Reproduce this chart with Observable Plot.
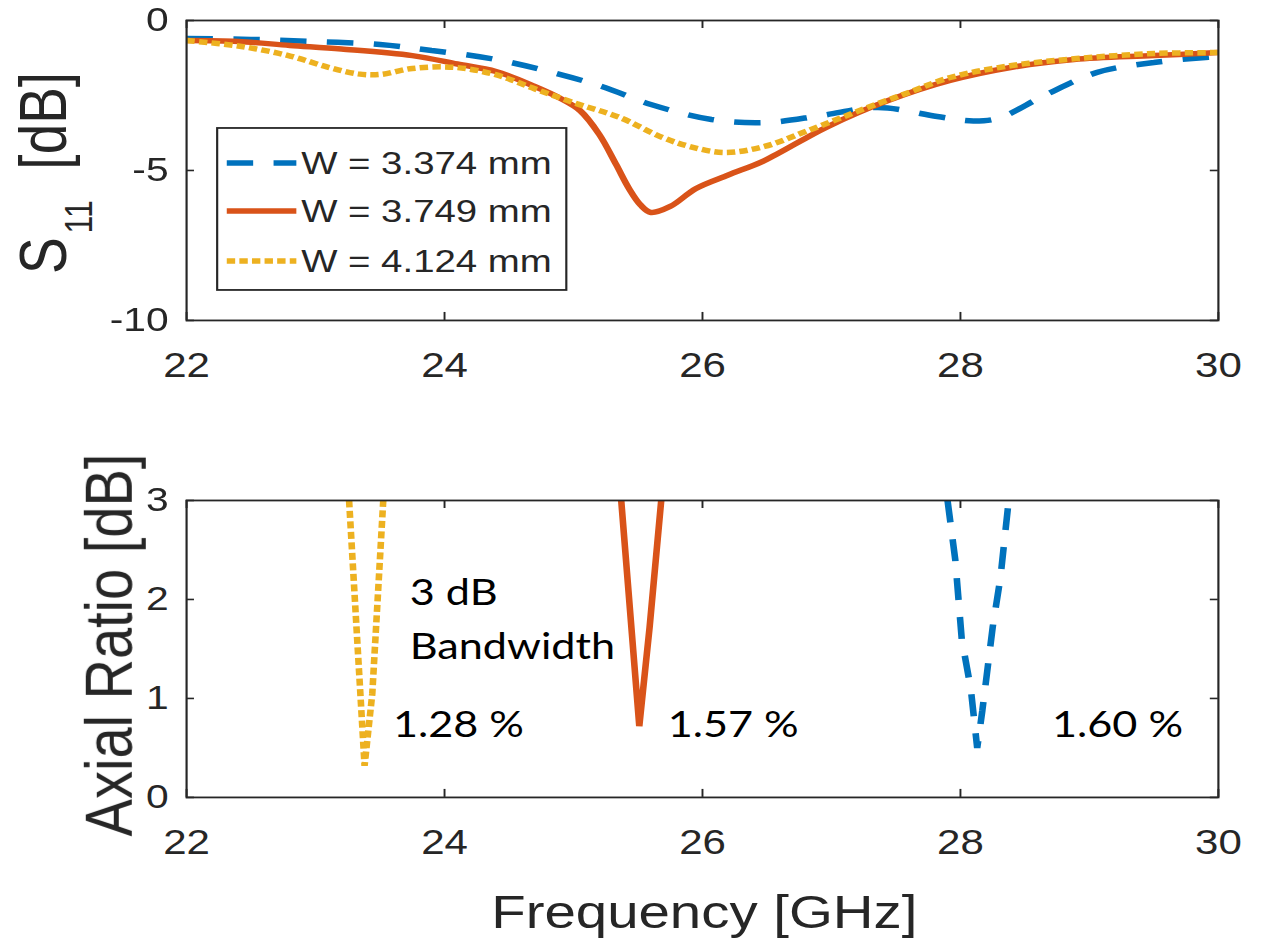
<!DOCTYPE html>
<html><head><meta charset="utf-8">
<script src="https://cdn.jsdelivr.net/npm/d3@7"></script>
<script src="https://cdn.jsdelivr.net/npm/@observablehq/plot@0.6"></script>
<style>
html,body{margin:0;padding:0;background:#fff;overflow:hidden;}
#wrap{width:1054px;transform:scaleX(1.2);transform-origin:0 0;}
#wrap svg{display:block;}
</style></head><body><div id="wrap"></div>
<script>
const STRETCH = 1.2;
const W = 1265 / STRETCH;

// ---- data ----
const xTicks = [22, 24, 26, 28, 30];
const s11Ticks = [0, -5, -10];
const arTicks = [0, 1, 2, 3];
const seriesNames = ["W = 3.374 mm", "W = 3.749 mm", "W = 4.124 mm"];
const colors = ["#0072BD", "#D95319", "#EDB120"];
const dashes = ["22,17", "none", "7,3.5"];

// S11 [dB]
const s11FreqA = [22, 22.5, 23, 23.5, 23.9, 24.36, 24.78, 25.22, 25.6, 26.07, 26.5, 26.92, 27.36, 27.82, 28.1, 28.3, 28.65, 29.06, 29.5, 29.9, 30];
const s11ValA  = [-0.6, -0.63, -0.7, -0.8, -1.0, -1.27, -1.67, -2.2, -2.8, -3.3, -3.4, -3.17, -2.9, -3.2, -3.35, -3.25, -2.5, -1.73, -1.4, -1.23, -1.2];
const s11FreqB = [22, 22.4, 22.8, 23.2, 23.75, 24.1, 24.4, 24.7, 24.9, 25.05, 25.2, 25.33, 25.43, 25.52, 25.6, 25.75, 25.95, 26.2, 26.48, 26.96, 27.44, 27.92, 28.4, 28.88, 29.5, 30];
const s11ValB  = [-0.67, -0.7, -0.83, -0.95, -1.17, -1.45, -1.7, -2.2, -2.6, -3.0, -3.8, -4.8, -5.6, -6.15, -6.4, -6.2, -5.6, -5.15, -4.67, -3.56, -2.67, -2.0, -1.56, -1.3, -1.17, -1.07];
const s11FreqC = [22, 22.4, 22.79, 23.1, 23.33, 23.5, 23.75, 24.07, 24.39, 24.7, 25.03, 25.35, 25.69, 25.9, 26.17, 26.48, 26.8, 27.28, 27.6, 27.92, 28.4, 28.9, 29.5, 30];
const s11ValC  = [-0.67, -0.85, -1.17, -1.56, -1.78, -1.8, -1.6, -1.56, -1.8, -2.28, -2.78, -3.22, -3.9, -4.2, -4.4, -4.2, -3.7, -2.9, -2.4, -1.9, -1.5, -1.27, -1.1, -1.07];

// Axial ratio [dB]
const arFreqA = [27.9, 27.96, 28.01, 28.08, 28.13, 28.17, 28.25, 28.31, 28.37];
const arValA  = [3, 2.4, 1.6, 1.1, 0.5, 0.88, 1.72, 2.22, 2.95];
const arFreqB = [25.37, 25.51, 25.59, 25.68];
const arValB  = [3, 0.72, 1.72, 3];
const arFreqC = [23.26, 23.38, 23.44, 23.525];
const arValC  = [3, 0.32, 1.05, 3];

const annoText = ["3 dB", "Bandwidth", "1.28 %", "1.57 %", "1.60 %"];
const annoFreq = [23.73, 23.73, 23.60, 25.73, 28.71];
const annoVal  = [1.94, 1.40, 0.606, 0.606, 0.606];

// ---- helpers ----
const zip = (f, v) => f.map((x, i) => ({f: x, v: v[i]}));
const INK = "#262626";
const FONT = "'Liberation Sans', Arial, Helvetica, sans-serif";
const s11Series = [zip(s11FreqA, s11ValA), zip(s11FreqB, s11ValB), zip(s11FreqC, s11ValC)];
const arSeries = [zip(arFreqA, arValA), zip(arFreqB, arValB), zip(arFreqC, arValC)];

function panel({height, marginTop, marginBottom, yDomain, yTicks, series, curve, tickLenY, extra = []}) {
  const tickLenX = 0.062;
  const [y0, y1] = yDomain;
  const marks = [];
  series.forEach((d, i) => marks.push(Plot.line(d, {
    x: "f", y: "v", stroke: colors[i], strokeWidth: 5.5,
    strokeDasharray: dashes[i], strokeLinecap: "butt", strokeLinejoin: "miter", curve, clip: true
  })));
  marks.push(
    Plot.ruleX(xTicks, {x: d => d, y1: y0, y2: y0 + tickLenY, stroke: INK, strokeWidth: 1.6}),
    Plot.ruleX(xTicks, {x: d => d, y1: y1 - tickLenY, y2: y1, stroke: INK, strokeWidth: 1.6}),
    Plot.ruleY(yTicks, {y: d => d, x1: 22, x2: 22 + tickLenX, stroke: INK, strokeWidth: 1.6}),
    Plot.ruleY(yTicks, {y: d => d, x1: 30 - tickLenX, x2: 30, stroke: INK, strokeWidth: 1.6}),
    Plot.frame({stroke: INK, strokeWidth: 1.8}),
    Plot.axisX({ticks: xTicks, tickFormat: d => String(d), tickSize: 0, tickPadding: 32, fontSize: 35, label: null}),
    Plot.axisY({ticks: yTicks, tickFormat: d => String(d), tickSize: 0, tickPadding: 15, fontSize: 34, label: null}),
    ...extra
  );
  return Plot.plot({
    width: W, height, marginTop, marginBottom,
    marginLeft: 155, marginRight: W - 1015,
    x: {domain: [22, 30]},
    y: {domain: yDomain},
    style: {fontFamily: FONT, color: INK, background: "white", overflow: "visible"},
    marks
  });
}

const topPlot = panel({height: 380, marginTop: 20, marginBottom: 60, yDomain: [-10, 0], yTicks: s11Ticks,
  series: s11Series, curve: "catmull-rom", tickLenY: 0.267});
const bottomPlot = panel({height: 570, marginTop: 120, marginBottom: 153, yDomain: [0, 3], yTicks: arTicks,
  series: arSeries, curve: "linear", tickLenY: 0.081,
  extra: [Plot.text(annoText.map((t, i) => ({t, f: annoFreq[i], v: annoVal[i]})), {
    x: "f", y: "v", text: "t", textAnchor: "start", lineAnchor: "bottom",
    fontSize: 36, fontFamily: "Lato, 'Open Sans', sans-serif", fill: "black"
  })]});

const wrap = document.getElementById("wrap");
wrap.appendChild(topPlot);
wrap.appendChild(bottomPlot);

// y title top: S11 [dB]
const ts = d3.select(topPlot);
const t1 = ts.append("text")
  .attr("transform", "translate(55,173) rotate(-90)")
  .attr("text-anchor", "middle")
  .attr("font-family", FONT).attr("font-size", 55).attr("fill", INK);
t1.append("tspan").text("S");
t1.append("tspan").attr("font-size", 32).attr("dx", 4).attr("dy", 22).text("11");
t1.append("tspan").attr("dy", -22).text("\u00a0\u00a0[dB]");

// legend
const lg = ts.append("g");
lg.append("rect").attr("x", 181).attr("y", 128).attr("width", 291).attr("height", 162)
  .attr("fill", "white").attr("stroke", INK).attr("stroke-width", 1.8);
const rowY = [163, 211, 261];
seriesNames.forEach((name, i) => {
  lg.append("line").attr("x1", 189).attr("x2", 247).attr("y1", rowY[i]).attr("y2", rowY[i])
    .attr("stroke", colors[i]).attr("stroke-width", 5.5)
    .attr("stroke-dasharray", dashes[i]);
  lg.append("text").attr("x", 251).attr("y", rowY[i]).attr("dy", "0.35em")
    .attr("text-anchor", "start")
    .attr("font-family", FONT).attr("font-size", 32).attr("fill", INK).text(name);
});

// bottom titles
const bs = d3.select(bottomPlot);
bs.append("text").attr("transform", "translate(110,265) rotate(-90)")
  .attr("text-anchor", "middle").attr("font-family", FONT).attr("font-size", 56)
  .attr("fill", INK).text("Axial Ratio [dB]");
bs.append("text").attr("x", 587).attr("y", 548)
  .attr("text-anchor", "middle").attr("font-family", FONT).attr("font-size", 47)
  .attr("fill", INK).text("Frequency [GHz]");
</script></body></html>
